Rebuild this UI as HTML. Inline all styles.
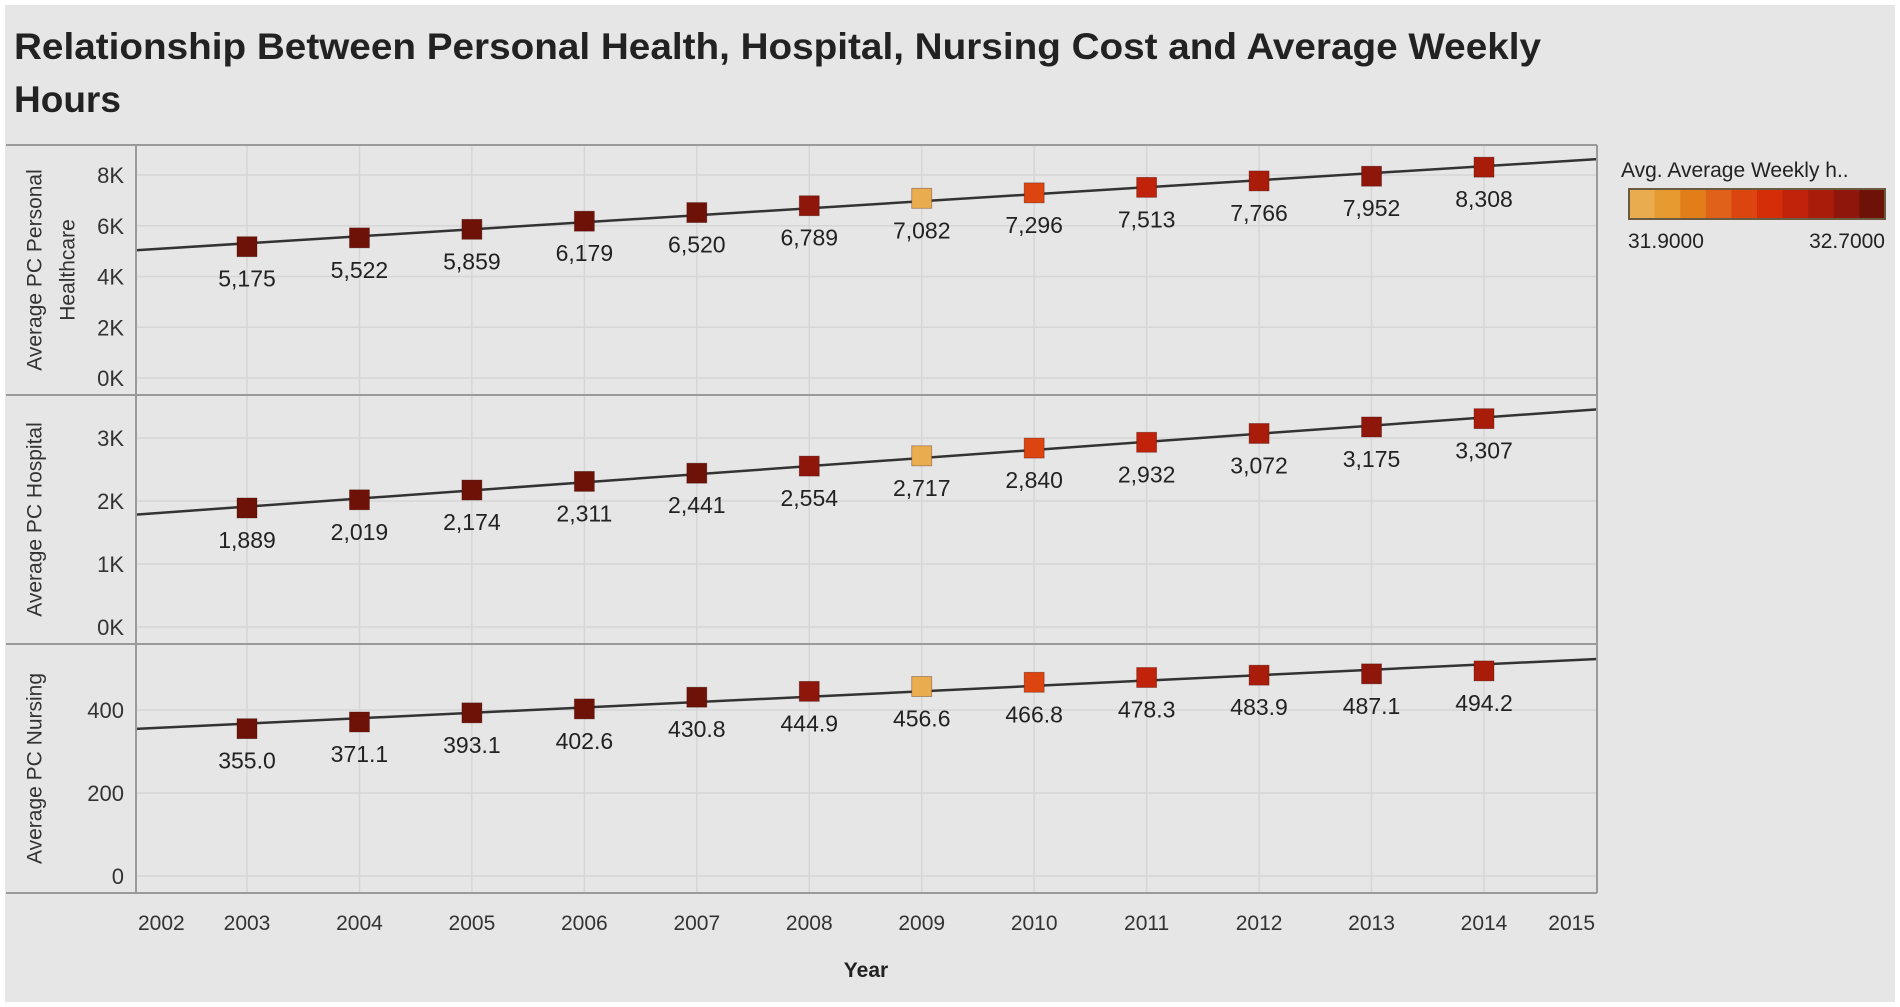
<!DOCTYPE html>
<html><head><meta charset="utf-8"><style>
html,body{margin:0;padding:0;background:#fff;}
svg{display:block;font-family:"Liberation Sans",sans-serif;}
</style></head><body>
<svg id="chart" width="1900" height="1007" viewBox="0 0 1900 1007">
<rect x="5" y="5" width="1890" height="997" fill="#e6e6e6"/>
<text x="14" y="59" font-size="37" font-weight="bold" fill="#222" textLength="1527" lengthAdjust="spacingAndGlyphs">Relationship Between Personal Health, Hospital, Nursing Cost and Average Weekly</text>
<text x="14" y="112" font-size="37" font-weight="bold" fill="#222">Hours</text>
<g id="plots"></g>
<g>
<text x="1621" y="177" font-size="21" fill="#222">Avg. Average Weekly h..</text>
<g id="legbar"></g>
<text x="1628" y="248" font-size="21" fill="#222">31.9000</text>
<text x="1885" y="248" font-size="21" fill="#222" text-anchor="end">32.7000</text>
</g>
<text x="866" y="977" font-size="21" font-weight="bold" fill="#222" text-anchor="middle">Year</text>
</svg>
<script>
const years=[2003,2004,2005,2006,2007,2008,2009,2010,2011,2012,2013,2014];
const healthcare=[5175,5522,5859,6179,6520,6789,7082,7296,7513,7766,7952,8308];
const hospital=[1889,2019,2174,2311,2441,2554,2717,2840,2932,3072,3175,3307];
const nursing=[355.0,371.1,393.1,402.6,430.8,444.9,456.6,466.8,478.3,483.9,487.1,494.2];
const hours=[32.70,32.70,32.70,32.70,32.70,32.62,31.90,32.30,32.42,32.50,32.58,32.50];
const xTicks=[2002,2003,2004,2005,2006,2007,2008,2009,2010,2011,2012,2013,2014,2015];
const palette=["#e9ad50","#e79a30","#e27e1a","#e0611a","#dc4410","#d42e08","#c0220a","#a91c0a","#8f160a","#6e1208"];
const NS="http://www.w3.org/2000/svg";
const plots=document.getElementById('plots');
const L=136,R=1597;
function x(yr){return 247+(yr-2003)*(1484-247)/11;}
function colorFor(h){let t=(h-31.9)/0.8;let i=Math.round(t*9);i=Math.max(0,Math.min(9,i));return palette[i];}
function el(tag,attrs,parent){const e=document.createElementNS(NS,tag);for(const k in attrs)e.setAttribute(k,attrs[k]);(parent||plots).appendChild(e);return e;}
const panels=[
 {vals:healthcare,top:145,bot:395,v0:0,p0:378,v1:8000,p1:175,ticks:[0,2000,4000,6000,8000],tl:["0K","2K","4K","6K","8K"],title:["Average PC Personal","Healthcare"],fmt:v=>v.toLocaleString('en-US'),name:'healthcare'},
 {vals:hospital,top:395,bot:644,v0:0,p0:627,v1:3000,p1:438,ticks:[0,1000,2000,3000],tl:["0K","1K","2K","3K"],title:["Average PC Hospital"],fmt:v=>v.toLocaleString('en-US'),name:'hospital'},
 {vals:nursing,top:644,bot:893,v0:0,p0:876,v1:400,p1:710,ticks:[0,200,400],tl:["0","200","400"],title:["Average PC Nursing"],fmt:v=>v.toFixed(1),name:'nursing'}
];
panels.forEach((p,pi)=>{
 const y=v=>p.p0+(v-p.v0)*(p.p1-p.p0)/(p.v1-p.v0);
 const g=el('g',{});
 
 
 years.forEach(yr=>{const l=el('line',{x1:x(yr),x2:x(yr),y1:p.top,y2:p.bot,stroke:'#d6d6d6','stroke-width':1.5},g);
  
  });
 p.ticks.forEach((t,i)=>{
  const l=el('line',{x1:L,x2:R,y1:y(t),y2:y(t),stroke:'#d6d6d6','stroke-width':1.5},g);
  
  
  const tx=el('text',{x:124,y:y(t)+8,'font-size':22,fill:'#333','text-anchor':'end'},g);
  tx.textContent=p.tl[i];
  
  
 });
 const cy=(p.top+p.bot)/2;
 p.title.forEach((t,i)=>{
  const xx=p.title.length>1?36+i*33:36;
  const tt=el('text',{x:xx,y:cy,'font-size':21,fill:'#333','text-anchor':'middle','dominant-baseline':'middle',transform:`rotate(-90 ${xx} ${cy})`},g);
  tt.textContent=t;
  
  
 });
 const n=years.length;let sx=0,sy=0,sxx=0,sxy=0;
 years.forEach((yr,i)=>{sx+=yr;sy+=p.vals[i];sxx+=yr*yr;sxy+=yr*p.vals[i];});
 const b=(n*sxy-sx*sy)/(n*sxx-sx*sx),a=(sy-b*sx)/n;
 const xa=2002,xb=2015.0;
 const tl=el('line',{x1:L,y1:y(a+b*xa),x2:R,y2:y(a+b*xb),stroke:'#333','stroke-width':2.5},g);
 
 
 years.forEach((yr,i)=>{
  const cx=x(yr),cyv=y(p.vals[i]);
  const r=el('rect',{x:cx-10,y:cyv-10,width:20,height:20,fill:colorFor(hours[i]),stroke:'#3a0a04','stroke-width':0.8,'stroke-opacity':0.4},g);
  
  
  const t=el('text',{x:cx,y:cyv+40,'font-size':23,fill:'#222','text-anchor':'middle'},g);
  t.textContent=p.fmt(p.vals[i]);
  
  
 });
});
[[6,145,R,145],[6,395,R,395],[6,644,R,644],[6,893,R,893],[L,145,L,893],[R,145,R,893]].forEach(c=>{
 const l=el('line',{x1:c[0],y1:c[1],x2:c[2],y2:c[3],stroke:'#9a9a9a','stroke-width':2});
 
 
});
xTicks.forEach((yr,i)=>{
 let xx=x(yr),anchor='middle';
 if(i===0){xx=L+2;anchor='start';}
 if(i===xTicks.length-1){xx=R-2;anchor='end';}
 const t=el('text',{x:xx,y:930,'font-size':21,fill:'#333','text-anchor':anchor});
 t.textContent=yr;
 
 
});
const lb=document.getElementById('legbar');
const bw=(1885-1629)/palette.length;
palette.forEach((c,i)=>{
 const r=el('rect',{x:1629+i*bw,y:189,width:bw+0.5,height:30,fill:c},lb);
 
 
});
const fr=el('rect',{x:1629,y:189,width:1885-1629,height:30,fill:'none',stroke:'#6a5a40','stroke-width':2},lb);


</script>
</body></html>
